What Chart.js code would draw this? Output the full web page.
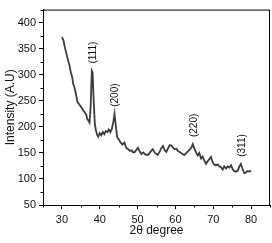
<!DOCTYPE html>
<html>
<head>
<meta charset="utf-8">
<script src="https://cdn.jsdelivr.net/npm/chart.js@4"></script>
<style>
  html, body { margin: 0; padding: 0; background: #fff; }
  #wrap { width: 272px; height: 243px; }
</style>
</head>
<body>
<div id="wrap"><canvas id="xrd"></canvas></div>
<script>
// 2theta values and intensity
const twoTheta = [30, 30.4, 30.8, 31.2, 31.5, 32, 32.4, 32.7, 33, 33.3, 33.6, 34.1, 34.5, 35, 35.5, 36.1, 36.4, 36.7, 37, 37.3,
  37.6, 37.9, 38.1, 38.4, 38.7, 39, 39.3, 39.6, 40, 40.4, 40.8, 41.2, 41.6, 42, 42.4, 42.8, 43.2, 43.6, 43.9, 44.2,
  44.6, 45, 45.5, 46, 46.5, 47, 47.5, 47.9, 48.4, 48.8, 49.3, 49.7, 50.1, 50.6, 51, 51.5, 52, 52.7, 53.2, 53.6,
  54, 54.6, 55.3, 55.8, 56.2, 56.7, 57.2, 57.6, 58, 58.5, 58.9, 59.4, 59.8, 60.3, 60.6, 61, 61.5, 62, 62.4, 62.9,
  63.3, 63.7, 64.2, 64.6, 65, 65.5, 65.9, 66.3, 66.8, 67.2, 67.6, 68.1, 68.6, 69, 69.4, 69.8, 70.2, 70.7, 71.2, 71.6,
  72, 72.5, 72.9, 73.4, 73.8, 74.3, 74.7, 75.2, 75.6, 76, 76.5, 76.9, 77.3, 77.7, 78.2, 78.6, 79, 79.5, 80];
const intensity = [372, 366, 352, 340, 331, 318, 303, 296, 282, 276, 267, 248, 244, 239, 233, 227, 224, 215, 212, 208,
  240, 308, 305, 250, 205, 193, 185, 181, 188, 184, 190, 186, 192, 190, 195, 190, 196, 210, 225, 205,
  180, 176, 170, 166, 170, 160, 157, 154, 155, 151, 152, 156, 160, 152, 148, 151, 147, 146, 150, 154,
  157, 150, 146, 152, 158, 163, 155, 152, 158, 165, 164, 160, 157, 158, 154, 152, 150, 147, 146, 150,
  153, 156, 160, 167, 158, 150, 145, 150, 139, 143, 136, 129, 135, 138, 142, 133, 128, 126, 128, 124,
  123, 118, 124, 120, 124, 122, 126, 118, 115, 114, 116, 124, 129, 120, 111, 112, 115, 114, 116];

const peakNames = ['(111)', '(200)', '(220)', '(311)'];
const peakAt = [37.9, 43.9, 64.6, 77.3];

const xMajor = [30, 40, 50, 60, 70, 80];
const xMinor = [25, 35, 45, 55, 65, 75, 85];
const yMajor = [50, 100, 150, 200, 250, 300, 350, 400];
const yMinor = [75, 125, 175, 225, 275, 325, 375, 425];

const fontFam = '"Liberation Sans", Arial, sans-serif';

const frameAndMarks = {
  id: 'frameAndMarks',
  afterDraw(chart) {
    const ctx = chart.ctx;
    const a = chart.chartArea;
    const sx = chart.scales.x, sy = chart.scales.y;
    ctx.save();
    ctx.strokeStyle = '#000';
    ctx.lineWidth = 1;
    ctx.strokeRect(a.left + 0.5, a.top + 0.5, a.right - a.left - 1, a.bottom - a.top);
    // minor ticks
    ctx.beginPath();
    xMinor.forEach(v => {
      const px = Math.round(sx.getPixelForValue(v)) + 0.5;
      ctx.moveTo(px, a.bottom); ctx.lineTo(px, a.bottom + 2.5);
    });
    yMinor.forEach(v => {
      const py = Math.round(sy.getPixelForValue(v)) + 0.5;
      ctx.moveTo(a.left, py); ctx.lineTo(a.left - 2.5, py);
    });
    ctx.stroke();
    // peak labels
    ctx.fillStyle = '#111';
    ctx.font = '10px ' + fontFam;
    ctx.textAlign = 'left';
    ctx.textBaseline = 'middle';
    peakNames.forEach((name, i) => {
      const idx = twoTheta.indexOf(peakAt[i]);
      const px = sx.getPixelForValue(twoTheta[idx]);
      const py = sy.getPixelForValue(intensity[idx]);
      ctx.save();
      ctx.translate(px + 1, py - 7);
      ctx.rotate(-Math.PI / 2);
      ctx.fillText(name, 0, 0);
      ctx.restore();
    });
    ctx.restore();
  }
};

new Chart(document.getElementById('xrd'), {
  type: 'line',
  data: {
    datasets: [{
      data: twoTheta.map((t, i) => ({ x: t, y: intensity[i] })),
      borderColor: '#3c3c3c',
      borderWidth: 1.8,
      pointRadius: 0,
      tension: 0,
      fill: false
    }]
  },
  options: {
    responsive: true,
    maintainAspectRatio: false,
    animation: false,
    layout: { padding: { top: 1, right: 2, left: 0, bottom: 0 } },
    plugins: { legend: { display: false }, tooltip: { enabled: false } },
    scales: {
      x: {
        type: 'linear',
        min: 25, max: 85,
        afterBuildTicks: s => { s.ticks = xMajor.map(v => ({ value: v })); },
        afterFit: s => { s.height = 38; },
        grid: { drawOnChartArea: false, drawTicks: true, tickLength: 4, color: '#000' },
        border: { display: true, color: '#000', width: 1 },
        ticks: { color: '#111', padding: 4, maxRotation: 0, font: { family: fontFam, size: 11 } },
        title: { display: true, text: '2θ degree', color: '#111', padding: { top: 0, bottom: 5 }, font: { family: fontFam, size: 12 } }
      },
      y: {
        min: 50, max: 425,
        afterBuildTicks: s => { s.ticks = yMajor.map(v => ({ value: v })); },
        afterFit: s => { s.width = 43; },
        grid: { drawOnChartArea: false, drawTicks: true, tickLength: 4, color: '#000' },
        border: { display: true, color: '#000', width: 1 },
        ticks: { color: '#111', padding: 3, font: { family: fontFam, size: 11 } },
        title: { display: true, text: 'Intensity (A.U)', color: '#111', padding: { top: 3, bottom: 0 }, font: { family: fontFam, size: 12 } }
      }
    }
  },
  plugins: [frameAndMarks]
});
</script>
</body>
</html>
